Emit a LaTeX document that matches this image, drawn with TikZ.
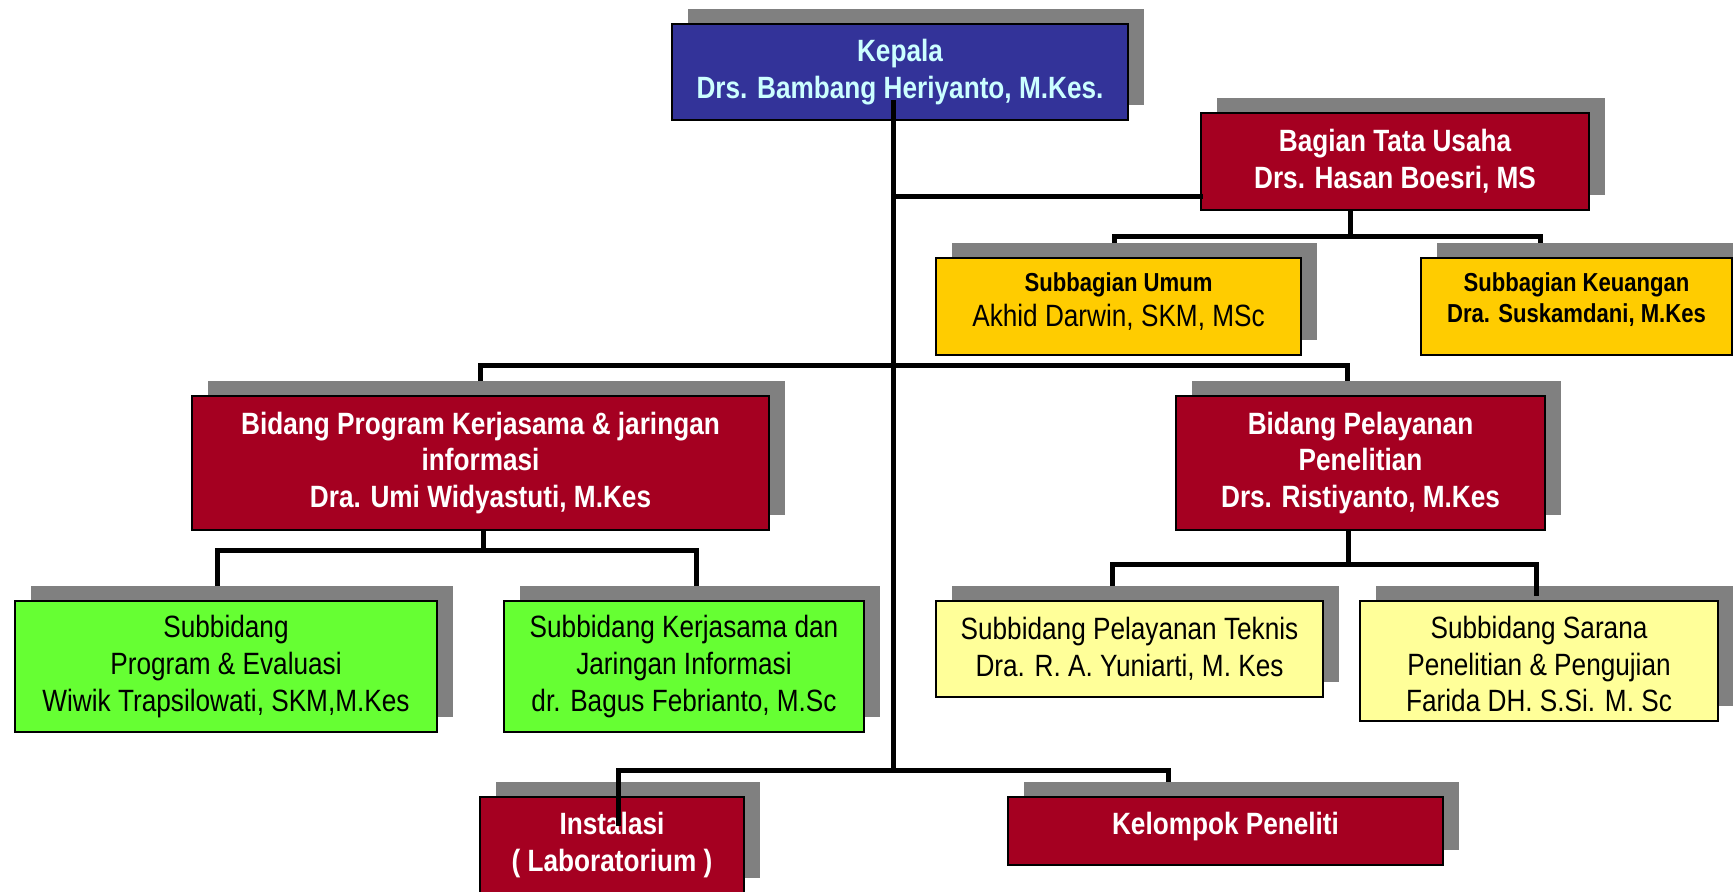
\documentclass[tikz,border=0pt]{standalone}
\usepackage{fontspec}
\setmainfont{Liberation Sans}[FakeStretch=0.85]
\usetikzlibrary{shadows}

\definecolor{kepalablue}{HTML}{333399}
\definecolor{kepalatext}{HTML}{CCFFFF}
\definecolor{darkred}{HTML}{A50021}
\definecolor{gold}{HTML}{FFCC00}
\definecolor{lime}{HTML}{66FF33}
\definecolor{paleyellow}{HTML}{FFFF99}
\definecolor{shadowgray}{HTML}{808080}

\newcommand{\orgfont}{\fontsize{15.4}{18.3}\selectfont}

\pgfdeclarelayer{bg}
\pgfsetlayers{bg,main}

\tikzset{
  box/.style={draw=black, line width=1pt, inner sep=2pt, align=center, font=\orgfont,
    drop shadow={shadow xshift=8pt, shadow yshift=7.5pt, fill=shadowgray, opacity=1}},
  headbox/.style={box, fill=kepalablue, text=kepalatext, font=\orgfont\bfseries},
  redbox/.style={box, fill=darkred, text=white, font=\orgfont\bfseries},
  goldbox/.style={box, fill=gold, text=black},
  limebox/.style={box, fill=lime, text=black},
  palebox/.style={box, fill=paleyellow, text=black},
  link/.style={line width=2.5pt, black, line cap=rect}
}

\begin{document}
\begin{tikzpicture}[x=0.5pt,y=-0.5pt]
\useasboundingbox (0,0) rectangle (1733,892);
\clip (0,0) rectangle (1733,892);

% junctions
\coordinate (ktop) at (893,103);
\coordinate (kbot) at (893,770);
\coordinate (jtu) at (893,197);
\coordinate (tuv) at (1350,237);
\coordinate (tul) at (1114,237);
\coordinate (tur) at (1540,237);
\coordinate (bl) at (480,366);
\coordinate (br) at (1347,366);
\coordinate (pv) at (483,550);
\coordinate (pl) at (217,550);
\coordinate (pr) at (696,550);
\coordinate (lv) at (1348,564);
\coordinate (ll) at (1112,564);
\coordinate (lr) at (1536,564);
\coordinate (lrend) at (1536,593);
\coordinate (bl2) at (618,770);
\coordinate (br2) at (1168,770);
\coordinate (instend) at (618,823);

% boxes
\node[headbox, minimum width=228pt, minimum height=48pt] (kepala) at (900,72) {Kepala\\Drs. Bambang Heriyanto, M.Kes.};
\node[redbox, minimum width=194pt, minimum height=48.5pt] (bagian) at (1395,161.5) {Bagian Tata Usaha\\Drs. Hasan Boesri, MS};
\node[goldbox, font=\fontsize{15.4}{17.3}\selectfont, text depth=6.7pt, minimum width=182.5pt, minimum height=48.5pt] (umum) at (1118.5,306.5)
  {{\fontsize{13}{17.3}\selectfont\bfseries Subbagian Umum}\\Akhid Darwin, SKM, MSc};
\node[goldbox, font=\bfseries\fontsize{13}{15.5}\selectfont, text depth=8.9pt, minimum width=155.5pt, minimum height=48.5pt] (keuangan) at (1576.5,306.5)
  {Subbagian Keuangan\\Dra. Suskamdani, M.Kes};
\node[redbox, minimum width=288.5pt, minimum height=67pt] (bprog) at (480.5,463)
  {Bidang Program Kerjasama \& jaringan\\informasi\\Dra. Umi Widyastuti, M.Kes};
\node[redbox, minimum width=184.5pt, minimum height=67pt] (bpel) at (1360.5,463)
  {Bidang Pelayanan\\Penelitian\\Drs. Ristiyanto, M.Kes};
\node[limebox, minimum width=211pt, minimum height=65.5pt] (sbprog) at (226,666.5)
  {Subbidang\\Program \& Evaluasi\\Wiwik Trapsilowati, SKM,M.Kes};
\node[limebox, minimum width=180pt, minimum height=65.5pt] (sbkerja) at (684,666.5)
  {Subbidang Kerjasama dan\\Jaringan Informasi\\dr. Bagus Febrianto, M.Sc};
\node[palebox, minimum width=193.5pt, minimum height=48pt] (sbteknis) at (1129.5,649)
  {Subbidang Pelayanan Teknis\\Dra. R. A. Yuniarti, M. Kes};
\node[palebox, text height=51pt, minimum width=179pt, minimum height=60pt] (sbsarana) at (1539,661)
  {Subbidang Sarana\\Penelitian \& Pengujian\\Farida DH. S.Si. M. Sc};
\node[redbox, minimum width=132pt, minimum height=48pt] (instalasi) at (612,845) {Instalasi\\( Laboratorium )};
\node[redbox, text depth=7.2pt, minimum width=217.5pt, minimum height=34pt] (kelompok) at (1225.5,831) {Kelompok Peneliti};

% links behind the boxes
\begin{pgfonlayer}{bg}
\fill[white] (0,0) rectangle (1733,892);
\draw[link] (bagian.south -| tuv) -- (tuv);
\draw[link] (umum.north -| tul) -- (tul) -- (tur) -- (keuangan.north -| tur);
\draw[link] (bprog.north -| bl) -- (bl) -- (br) -- (bpel.north -| br);
\draw[link] (bprog.south -| pv) -- (pv);
\draw[link] (sbprog.north -| pl) -- (pl) -- (pr) -- (sbkerja.north -| pr);
\draw[link] (bpel.south -| lv) -- (lv);
\draw[link] (sbteknis.north -| ll) -- (ll) -- (lr);
\draw[link] (br2) -- (kelompok.north -| br2);
\end{pgfonlayer}

% links in front
\draw[link] (ktop) -- (kbot);
\draw[link] (jtu) -- (jtu -| bagian.west);
\draw[link] (lr) -- (lrend);
\draw[link] (instend) -- (bl2) -- (br2);

\end{tikzpicture}
\end{document}
